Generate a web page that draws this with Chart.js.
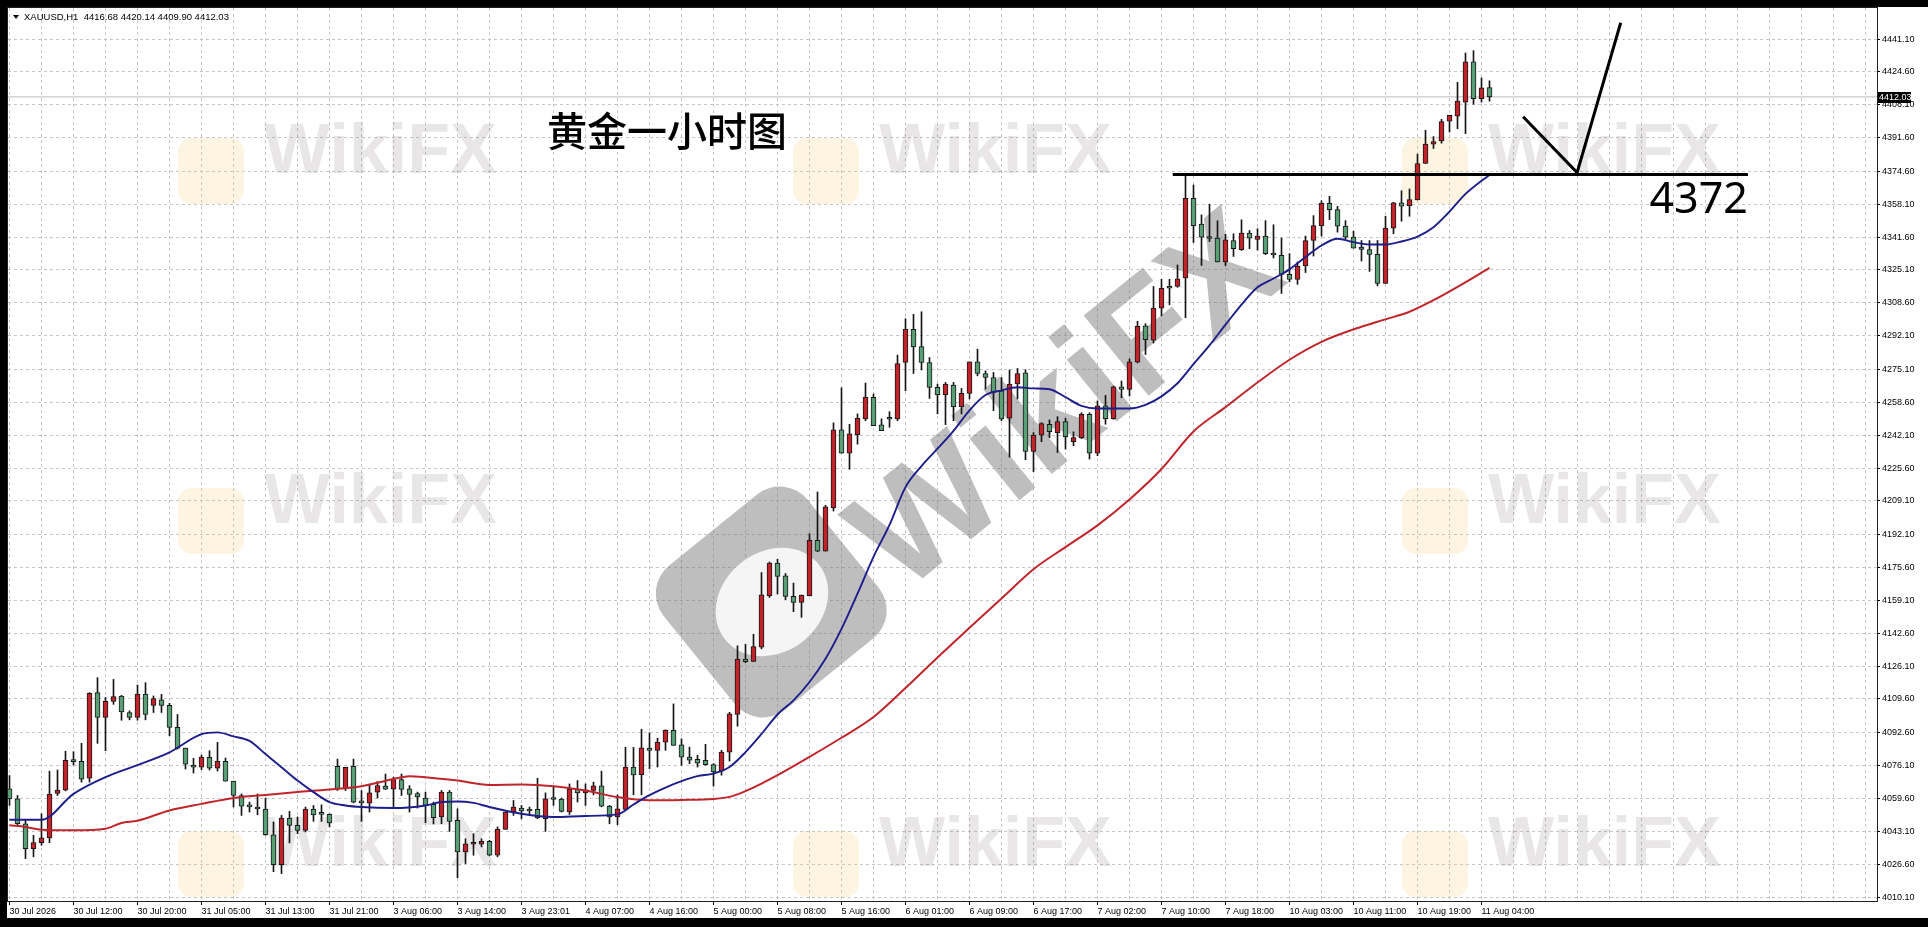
<!DOCTYPE html>
<html>
<head>
<meta charset="utf-8">
<title>XAUUSD H1</title>
<script src="https://cdn.jsdelivr.net/npm/chart.js@4/dist/chart.umd.min.js"></script>
<style>
    html, body { margin: 0; padding: 0; width: 1928px; height: 927px; background: #000; overflow: hidden; }
    #panel { position: absolute; left: 7px; top: 7px; width: 1921px; height: 911px; background: #fff; }
    #chart { display: block; width: 1921px; height: 911px; }
</style>
</head>
<body>
<div id="panel"><canvas id="chart" width="1921" height="911"></canvas></div>
<script>
// time labels, one every 8 hourly bars
const timeLabels = [
    "30 Jul 2026", "30 Jul 12:00", "30 Jul 20:00", "31 Jul 05:00", "31 Jul 13:00", "31 Jul 21:00",
    "3 Aug 06:00", "3 Aug 14:00", "3 Aug 23:01", "4 Aug 07:00", "4 Aug 16:00", "5 Aug 00:00",
    "5 Aug 08:00", "5 Aug 16:00", "6 Aug 01:00", "6 Aug 09:00", "6 Aug 17:00", "7 Aug 02:00",
    "7 Aug 10:00", "7 Aug 18:00", "10 Aug 03:00", "10 Aug 11:00", "10 Aug 19:00", "11 Aug 04:00"
];

const openPx = [
    4064.4, 4059.4, 4046.9, 4034.4, 4037.4, 4039.8, 4062.1, 4063.8, 4078.3, 4078.3,
    4069.8, 4112.8, 4100.3, 4108.3, 4111.1, 4102.8, 4100.3, 4112.1, 4106.4, 4109.1,
    4106.4, 4095.3, 4084.9, 4076.4, 4075.3, 4080.3, 4074.8, 4078.3, 4068.3, 4061.1,
    4055.8, 4054.6, 4054.3, 4041.4, 4026.4, 4049.8, 4046.1, 4043.6, 4054.3, 4051.9,
    4051.6, 4075.8, 4064.4, 4075.8, 4057.8, 4057.3, 4062.8, 4065.8, 4064.3, 4069.1,
    4064.4, 4062.1, 4059.8, 4056.6, 4050.3, 4062.8, 4048.6, 4032.8, 4036.6, 4036.6,
    4038.1, 4031.1, 4044.1, 4052.8, 4054.8, 4054.1, 4054.1, 4049.4, 4059.4, 4059.3,
    4052.8, 4064.3, 4062.4, 4063.6, 4065.9, 4055.8, 4050.3, 4054.1, 4075.4, 4071.6,
    4084.9, 4083.8, 4087.9, 4093.8, 4086.6, 4080.4, 4079.3, 4078.8, 4076.6, 4073.3,
    4082.9, 4101.8, 4129.6, 4128.4, 4135.6, 4161.4, 4177.8, 4171.4, 4161.1, 4158.1,
    4161.4, 4189.3, 4183.9, 4205.6, 4244.8, 4233.1, 4242.4, 4250.3, 4261.1, 4247.3,
    4250.4, 4250.3, 4278.6, 4295.3, 4286.6, 4278.6, 4266.1, 4262.4, 4267.3, 4256.4,
    4263.1, 4278.9, 4273.1, 4271.1, 4264.4, 4250.6, 4267.8, 4273.4, 4233.9, 4242.1,
    4247.6, 4243.4, 4248.9, 4238.9, 4240.9, 4252.6, 4233.1, 4256.8, 4250.4, 4266.4,
    4265.1, 4278.8, 4297.1, 4289.8, 4305.9, 4316.3, 4316.8, 4321.1, 4361.1, 4348.1,
    4341.3, 4341.1, 4329.1, 4339.9, 4335.3, 4343.6, 4340.4, 4342.1, 4332.9, 4332.4,
    4322.9, 4320.3, 4327.1, 4339.9, 4347.4, 4358.6, 4355.4, 4347.1, 4341.6, 4336.6,
    4335.3, 4332.9, 4318.3, 4346.1, 4358.8, 4357.4, 4360.3, 4378.6, 4388.3, 4389.9,
    4399.9, 4402.4, 4409.4, 4429.6, 4411.1, 4416.68
];
const highPx = [
    4071.1, 4061.1, 4048.6, 4041.1, 4051.9, 4073.3, 4073.9, 4083.3, 4083.1, 4087.3,
    4112.8, 4120.3, 4110.3, 4119.4, 4111.4, 4103.6, 4116.6, 4117.8, 4111.1, 4111.9,
    4107.4, 4101.8, 4084.9, 4079.8, 4081.4, 4083.6, 4087.8, 4079.9, 4068.3, 4061.9,
    4057.8, 4061.9, 4059.8, 4047.8, 4051.1, 4053.1, 4050.3, 4055.3, 4056.1, 4056.4,
    4051.9, 4079.4, 4075.3, 4079.4, 4063.6, 4066.9, 4068.1, 4071.9, 4070.3, 4071.9,
    4066.1, 4062.8, 4062.8, 4057.8, 4063.6, 4063.6, 4054.4, 4039.4, 4041.9, 4039.4,
    4038.6, 4045.3, 4052.8, 4058.6, 4056.1, 4055.3, 4069.8, 4062.4, 4065.3, 4059.8,
    4066.9, 4068.6, 4066.9, 4067.8, 4073.3, 4056.1, 4061.4, 4085.3, 4085.3, 4094.4,
    4092.6, 4089.9, 4094.1, 4107.1, 4089.6, 4085.4, 4081.3, 4086.8, 4077.1, 4083.8,
    4102.9, 4136.3, 4137.1, 4142.1, 4173.1, 4178.4, 4179.8, 4172.6, 4167.8, 4161.8,
    4192.6, 4213.6, 4206.9, 4248.3, 4265.9, 4247.6, 4252.8, 4268.3, 4262.8, 4250.3,
    4253.9, 4282.3, 4300.6, 4302.8, 4304.1, 4281.1, 4267.8, 4268.6, 4268.6, 4265.6,
    4278.9, 4285.3, 4274.4, 4273.6, 4271.1, 4274.9, 4275.6, 4275.0, 4243.4, 4248.4,
    4249.8, 4251.4, 4250.6, 4243.8, 4253.4, 4253.4, 4259.3, 4262.1, 4266.8, 4269.3,
    4280.4, 4299.3, 4298.1, 4316.8, 4320.4, 4320.4, 4327.6, 4372.3, 4367.8, 4352.8,
    4358.1, 4349.8, 4343.1, 4343.3, 4350.3, 4344.9, 4345.8, 4349.9, 4347.8, 4341.1,
    4333.3, 4329.1, 4342.1, 4352.4, 4359.9, 4362.1, 4357.1, 4349.9, 4344.6, 4339.9,
    4339.9, 4339.9, 4352.1, 4359.1, 4364.9, 4365.8, 4383.3, 4395.3, 4392.1, 4400.8,
    4402.8, 4419.4, 4434.1, 4435.3, 4421.6, 4420.14
];
const lowPx = [
    4056.1, 4046.1, 4029.4, 4030.3, 4036.1, 4037.4, 4061.1, 4063.4, 4076.4, 4067.8,
    4067.8, 4087.3, 4083.6, 4106.9, 4098.9, 4099.1, 4098.9, 4099.1, 4102.8, 4102.8,
    4091.1, 4084.4, 4074.4, 4072.4, 4074.1, 4073.9, 4073.4, 4068.3, 4055.3, 4051.1,
    4052.8, 4051.4, 4041.1, 4022.8, 4021.9, 4037.3, 4041.9, 4042.8, 4048.1, 4048.1,
    4045.3, 4063.6, 4063.6, 4057.4, 4048.1, 4052.8, 4059.8, 4064.1, 4055.3, 4061.1,
    4052.8, 4054.8, 4047.4, 4046.8, 4046.9, 4043.1, 4019.8, 4026.9, 4031.1, 4035.3,
    4030.8, 4030.3, 4044.1, 4051.1, 4049.4, 4051.9, 4049.4, 4043.1, 4056.1, 4052.8,
    4051.6, 4057.8, 4056.1, 4061.4, 4055.4, 4046.9, 4046.4, 4053.6, 4061.4, 4061.4,
    4074.6, 4075.4, 4083.8, 4086.3, 4076.3, 4077.1, 4075.4, 4076.3, 4065.8, 4071.3,
    4078.4, 4095.9, 4127.9, 4128.4, 4134.8, 4160.6, 4162.3, 4159.4, 4153.4, 4150.6,
    4161.4, 4183.6, 4183.9, 4204.0, 4233.1, 4225.0, 4237.6, 4249.4, 4246.9, 4244.4,
    4246.1, 4249.4, 4264.4, 4273.1, 4274.9, 4260.6, 4252.8, 4247.4, 4249.4, 4252.8,
    4260.3, 4271.9, 4265.3, 4254.4, 4249.4, 4231.1, 4260.3, 4229.8, 4223.8, 4238.8,
    4240.9, 4233.4, 4235.1, 4236.8, 4240.4, 4230.1, 4231.8, 4247.6, 4250.1, 4260.9,
    4261.8, 4278.4, 4282.6, 4288.4, 4302.1, 4307.6, 4316.4, 4301.1, 4338.9, 4327.4,
    4339.4, 4329.1, 4327.3, 4331.9, 4334.9, 4335.8, 4335.1, 4332.8, 4331.1, 4313.3,
    4319.1, 4317.9, 4323.8, 4332.1, 4342.1, 4350.4, 4344.1, 4340.8, 4336.1, 4329.6,
    4324.4, 4317.1, 4318.3, 4343.3, 4349.6, 4352.1, 4360.3, 4378.6, 4386.1, 4388.8,
    4394.4, 4396.1, 4393.6, 4408.3, 4409.4, 4409.90
];
const closePx = [
    4059.4, 4046.9, 4034.4, 4037.4, 4039.8, 4061.8, 4063.8, 4078.8, 4078.1, 4069.3,
    4112.4, 4100.3, 4108.4, 4110.8, 4103.1, 4100.3, 4112.1, 4101.8, 4109.8, 4106.4,
    4095.3, 4084.9, 4076.8, 4075.3, 4080.4, 4074.8, 4078.3, 4068.3, 4061.1, 4055.8,
    4055.4, 4054.3, 4041.4, 4026.4, 4049.8, 4046.1, 4043.6, 4054.3, 4051.4, 4051.6,
    4047.3, 4064.4, 4075.3, 4057.8, 4057.4, 4062.4, 4066.1, 4064.3, 4069.1, 4064.1,
    4061.6, 4060.4, 4056.1, 4049.9, 4062.8, 4048.1, 4032.8, 4036.8, 4036.9, 4038.1,
    4031.1, 4044.1, 4052.8, 4055.3, 4053.3, 4053.3, 4049.8, 4059.4, 4059.1, 4053.1,
    4064.3, 4062.4, 4063.9, 4065.9, 4055.8, 4050.3, 4054.4, 4075.4, 4071.4, 4085.1,
    4083.8, 4087.9, 4093.8, 4086.3, 4080.4, 4078.8, 4077.4, 4076.6, 4072.9, 4082.9,
    4102.1, 4129.6, 4128.3, 4135.9, 4161.9, 4177.8, 4171.1, 4161.1, 4158.1, 4161.8,
    4189.3, 4183.9, 4206.1, 4244.8, 4233.1, 4242.8, 4250.6, 4261.1, 4246.9, 4244.4,
    4250.1, 4278.1, 4295.3, 4286.4, 4278.6, 4266.1, 4262.4, 4267.8, 4256.4, 4263.1,
    4278.9, 4273.1, 4271.1, 4263.6, 4250.3, 4267.8, 4273.1, 4233.9, 4242.1, 4247.9,
    4243.9, 4248.9, 4241.4, 4240.9, 4252.6, 4233.1, 4256.8, 4250.4, 4266.4, 4265.1,
    4278.9, 4296.8, 4290.1, 4305.9, 4315.9, 4315.9, 4320.6, 4361.1, 4347.4, 4341.6,
    4340.9, 4329.1, 4340.3, 4335.8, 4343.6, 4341.1, 4342.1, 4333.3, 4332.6, 4322.9,
    4320.3, 4327.1, 4339.9, 4347.4, 4358.6, 4355.4, 4347.1, 4341.6, 4336.1, 4335.4,
    4332.9, 4318.3, 4346.1, 4358.8, 4357.1, 4360.4, 4378.6, 4388.3, 4389.6, 4399.6,
    4402.8, 4409.9, 4429.6, 4411.1, 4416.6, 4412.03
];

// moving averages at these bar numbers
const maFastBar = [0, 4, 8, 12, 16, 20, 24, 26, 28, 30, 32, 34, 36, 38, 40, 42, 44, 48, 52, 54, 56, 58, 60, 64, 68, 72, 76, 78,
    80, 82, 84, 86, 88, 90, 92, 94, 96, 98, 100, 102, 104, 106, 108, 110, 112, 114, 116, 118, 120, 122, 124, 126,
    128, 130, 132, 134, 136, 138, 140, 142, 144, 146, 148, 150, 152, 154, 156, 158, 160, 162, 164, 166, 168, 170,
    172, 174, 176, 178, 180, 182, 184, 185];
const maFastVal = [4048.9, 4048.9, 4061.9, 4070.3, 4076.4, 4082.8, 4091.9, 4092.8, 4090.8, 4088.5, 4081.9, 4075.3, 4068.6,
    4062.8, 4057.8, 4056.1, 4055.3, 4054.8, 4056.1, 4057.8, 4058.1, 4057.4, 4055.3, 4051.9, 4050.3, 4050.8, 4051.6, 4056.6,
    4061.3, 4065.1, 4068.3, 4070.8, 4072.1, 4075.4, 4082.9, 4092.0, 4101.8, 4108.9, 4118.1, 4129.8, 4144.8, 4162.5,
    4181.0, 4197.0, 4216.0, 4226.6, 4235.3, 4244.3, 4254.6, 4262.3, 4264.6, 4266.2, 4265.6, 4265.2, 4261.2, 4256.8,
    4255.5, 4255.5, 4255.5, 4257.3, 4261.6, 4268.2, 4277.8, 4287.2, 4297.6, 4307.7, 4316.4, 4320.8, 4325.4, 4331.6,
    4337.4, 4340.8, 4339.1, 4337.9, 4337.9, 4339.4, 4341.9, 4346.6, 4354.4, 4363.3, 4369.9, 4372.8];
const maSlowBar = [0, 2, 4, 8, 12, 14, 16, 20, 24, 28, 32, 36, 40, 44, 48, 50, 52, 56, 60, 64, 68, 72, 76, 80, 84, 88, 90,
    92, 94, 96, 100, 104, 108, 112, 116, 120, 124, 128, 132, 136, 140, 144, 148, 152, 156, 160, 164, 169, 172, 175,
    178, 181, 185];
const maSlowVal = [4046.1, 4045.3, 4043.9, 4043.6, 4044.4, 4047.3, 4048.4, 4053.6, 4056.9, 4059.9, 4061.4, 4062.8, 4064.1,
    4065.8, 4069.4, 4070.8, 4070.3, 4068.6, 4066.4, 4066.6, 4065.8, 4063.6, 4060.3, 4058.7, 4058.9, 4059.4, 4060.4,
    4063.3, 4067.1, 4071.3, 4080.5, 4090.1, 4100.5, 4115.1, 4130.4, 4145.4, 4160.1, 4174.8, 4185.9, 4196.8, 4209.8,
    4225.1, 4244.0, 4256.2, 4268.6, 4280.0, 4289.0, 4296.6, 4300.3, 4304.1, 4309.9, 4316.6, 4326.1];

const yTicks = [4441.10, 4424.60, 4408.10, 4391.60, 4374.60, 4358.10, 4341.60, 4325.10, 4308.60, 4292.10, 4275.10,
    4258.60, 4242.10, 4225.60, 4209.10, 4192.10, 4175.60, 4159.10, 4142.60, 4126.10, 4109.60, 4092.60, 4076.10,
    4059.60, 4043.10, 4026.60, 4010.10];

// hand-drawn level and sketch
const levelPrice = 4373;
const levelText = "4372";
const levelBars = [145.4, 217.3];
const sketchBar = [189.2, 195.95, 201.4];
const sketchVal = [4402.1, 4374.0, 4449.3];

const symbol = "XAUUSD,H1";
const chartTitle = "黄金一小时图";

const xMin = -0.1875, xMax = 233.4375;
const yMin = 4008.1, yMax = 4456.7;

const UP = "#c1232b";
const DOWN = "#5a9e76";
const INK = "#161616";
const tickFont = { family: "'Liberation Sans', Arial, sans-serif", size: 9 };

const last = openPx.length - 1;
const lastPrice = closePx[last];

const bars = openPx.map((_, i) => i);
const wickData = bars.map(i => ({ x: i, y: [lowPx[i], highPx[i]] }));
const bodyData = bars.map(i => ({ x: i, y: [openPx[i], closePx[i]] }));
const bodyColors = bars.map(i => closePx[i] >= openPx[i] ? UP : DOWN);

function roundRect(ctx, x, y, w, h, r) {
    ctx.beginPath();
    ctx.moveTo(x + r, y);
    ctx.arcTo(x + w, y, x + w, y + h, r);
    ctx.arcTo(x + w, y + h, x, y + h, r);
    ctx.arcTo(x, y + h, x, y, r);
    ctx.arcTo(x, y, x + w, y, r);
    ctx.closePath();
}

function drawWatermarks(ctx) {
    ctx.save();
    ctx.textAlign = "left";
    ctx.textBaseline = "middle";
    const spots = [[257, 147], [872, 147], [1481, 147], [257, 497], [1481, 497], [257, 840], [872, 840], [1481, 840]];
    spots.forEach(([tx, ty]) => {
        ctx.fillStyle = "rgba(245, 205, 120, 0.22)";
        roundRect(ctx, tx - 86, ty - 16, 66, 66, 14);
        ctx.fill();
        ctx.fillStyle = "rgba(140, 130, 130, 0.2)";
        ctx.font = "bold 70px 'Liberation Sans', Arial, sans-serif";
        ctx.fillText("WikiFX", tx, ty);
    });

    // big tilted mark in the middle
    ctx.translate(1063, 399);
    ctx.rotate(-0.68);
    ctx.fillStyle = "rgba(110, 110, 110, 0.45)";
    roundRect(ctx, -448, -128, 185, 185, 36);
    ctx.fill();
    ctx.fillStyle = "rgba(255, 255, 255, 0.85)";
    ctx.beginPath();
    ctx.ellipse(-355, -35, 60, 50, 0, 0, Math.PI * 2);
    ctx.fill();
    ctx.fillStyle = "rgba(110, 110, 110, 0.45)";
    ctx.font = "bold 150px 'Liberation Sans', Arial, sans-serif";
    ctx.textAlign = "center";
    ctx.fillText("WikiFX", 0, 0);
    ctx.restore();
}

const overlay = {
    id: "overlay",
    beforeDatasetsDraw(chart) {
        drawWatermarks(chart.ctx);
    },
    afterDraw(chart) {
        const { ctx, chartArea, scales: { x, y } } = chart;
        ctx.save();

        ctx.strokeStyle = "#202020";
        ctx.lineWidth = 1;
        ctx.strokeRect(chartArea.left - 0.5, chartArea.top - 0.5,
            chartArea.right - chartArea.left + 1, chartArea.bottom - chartArea.top + 1);

        // header line
        ctx.fillStyle = "#000";
        ctx.beginPath();
        ctx.moveTo(6, 8); ctx.lineTo(12, 8); ctx.lineTo(9, 12); ctx.closePath();
        ctx.fill();
        ctx.font = "9.5px 'Liberation Sans', Arial, sans-serif";
        ctx.textBaseline = "middle";
        ctx.textAlign = "left";
        const ohlc = [openPx[last], highPx[last], lowPx[last], closePx[last]].map(v => v.toFixed(2)).join(" ");
        ctx.fillText(symbol + "  " + ohlc, 17, 10);

        // title
        ctx.font = "500 40px 'Noto Sans CJK SC', sans-serif";
        ctx.fillText(chartTitle, 540, 124);

        // level label
        ctx.font = "43px 'Noto Sans', 'Liberation Sans', sans-serif";
        ctx.textAlign = "right";
        ctx.textBaseline = "alphabetic";
        ctx.fillText(levelText, x.getPixelForValue(levelBars[1]), y.getPixelForValue(levelPrice) + 38);

        // last price tag on the axis
        const py = Math.round(y.getPixelForValue(lastPrice));
        ctx.fillStyle = "#000";
        ctx.fillRect(chartArea.right + 1, py - 5, 33, 11);
        ctx.fillStyle = "#fff";
        ctx.font = "9px 'Liberation Sans', Arial, sans-serif";
        ctx.textAlign = "left";
        ctx.textBaseline = "middle";
        ctx.fillText(lastPrice.toFixed(2), chartArea.right + 2, py + 0.5);
        ctx.restore();
    }
};

new Chart(document.getElementById("chart"), {
    type: "bar",
    data: {
        datasets: [
            {
                type: "line", label: "sketch",
                data: sketchBar.map((b, i) => ({ x: b, y: sketchVal[i] })),
                borderColor: "#000", borderWidth: 3, pointRadius: 0, order: -2
            },
            {
                type: "line", label: "level",
                data: levelBars.map(b => ({ x: b, y: levelPrice })),
                borderColor: "#000", borderWidth: 3, pointRadius: 0, order: -1
            },
            {
                type: "line", label: "MA fast",
                data: maFastBar.map((b, i) => ({ x: b, y: maFastVal[i] })),
                borderColor: "#1d1d8c", borderWidth: 1.9, pointRadius: 0,
                cubicInterpolationMode: "monotone", order: 0
            },
            {
                type: "line", label: "MA slow",
                data: maSlowBar.map((b, i) => ({ x: b, y: maSlowVal[i] })),
                borderColor: "#bf262c", borderWidth: 2, pointRadius: 0,
                cubicInterpolationMode: "monotone", order: 1
            },
            {
                type: "line", label: "bid",
                data: [{ x: xMin, y: lastPrice }, { x: xMax, y: lastPrice }],
                borderColor: "#b8b8b8", borderWidth: 1, pointRadius: 0, order: 6
            },
            {
                label: "body", data: bodyData,
                backgroundColor: bodyColors, borderColor: INK, borderWidth: 1, borderSkipped: false,
                barThickness: 5, minBarLength: 2, grouped: false, order: 2
            },
            {
                label: "wick", data: wickData,
                backgroundColor: INK, borderWidth: 0,
                barThickness: 1, grouped: false, order: 3
            }
        ]
    },
    options: {
        responsive: false,
        animation: false,
        events: [],
        layout: { padding: { left: 1, top: 1, right: 0, bottom: 0 } },
        plugins: { legend: { display: false }, tooltip: { enabled: false } },
        scales: {
            x: {
                type: "linear", min: xMin, max: xMax, offset: false,
                afterBuildTicks: s => {
                    const t = [];
                    for (let v = 0; v <= xMax; v += 4) t.push({ value: v });
                    s.ticks = t;
                },
                afterFit: s => { s.height = 17; s.paddingLeft = 0; s.paddingRight = 0; },
                ticks: {
                    autoSkip: false, maxRotation: 0, minRotation: 0, align: "start", padding: 1,
                    font: tickFont, color: "#000",
                    callback: v => (v % 8 === 0 && timeLabels[v / 8]) ? timeLabels[v / 8] : ""
                },
                grid: {
                    color: "#c6c6c6", offset: false, tickLength: 4,
                    tickColor: c => (c.tick && c.tick.value % 8 === 0 && timeLabels[c.tick.value / 8]) ? "#000" : "rgba(0,0,0,0)"
                },
                border: { color: "#202020", dash: [3, 3] }
            },
            y: {
                type: "linear", position: "right", min: yMin, max: yMax, beginAtZero: false,
                afterBuildTicks: s => { s.ticks = yTicks.map(v => ({ value: v })); },
                afterFit: s => { s.width = 51; s.paddingTop = 0; s.paddingBottom = 0; },
                ticks: { padding: 2, font: tickFont, color: "#000", callback: v => Number(v).toFixed(2) },
                grid: { color: "#c6c6c6", tickLength: 3, tickColor: "#000" },
                border: { color: "#202020", dash: [3, 3] }
            }
        }
    },
    plugins: [overlay]
});
</script>
</body>
</html>
